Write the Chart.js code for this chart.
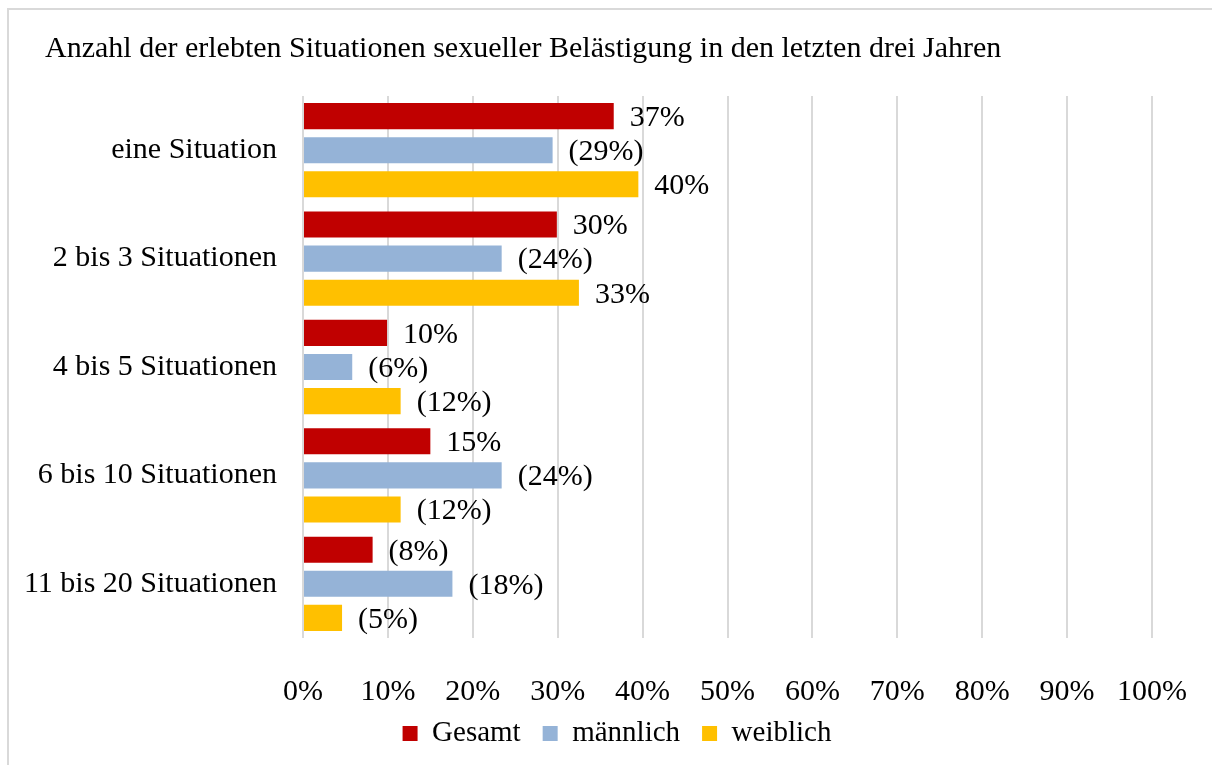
<!DOCTYPE html>
<html>
<head>
<meta charset="utf-8">
<script src="https://cdn.jsdelivr.net/npm/chart.js@4"></script>
<style>
    html, body { margin: 0; padding: 0; background: #fff; overflow: hidden; }
    #frame {
        position: absolute; left: 7px; top: 8px; width: 1300px; height: 900px;
        border: 2px solid #d9d9d9; box-sizing: border-box;
    }
    #wrap { position: absolute; left: 0; top: 0; width: 1212px; height: 765px; }
</style>
</head>
<body>
<div id="frame"></div>
<div id="wrap"><canvas id="chart" width="1212" height="765"></canvas></div>
<script>
// categories and series
const categories = ['eine Situation', '2 bis 3 Situationen', '4 bis 5 Situationen', '6 bis 10 Situationen', '11 bis 20 Situationen'];
const gesamt = [36.6, 29.9, 9.9, 15.0, 8.2];
const maennlich = [29.4, 23.4, 5.8, 23.4, 17.6];
const weiblich = [39.5, 32.5, 11.5, 11.5, 4.6];

// labels printed next to the bars (brackets = small sample)
const gesamtLabels = ['37%', '30%', '10%', '15%', '(8%)'];
const maennlichLabels = ['(29%)', '(24%)', '(6%)', '(24%)', '(18%)'];
const weiblichLabels = ['40%', '33%', '(12%)', '(12%)', '(5%)'];

const xTicks = [0, 10, 20, 30, 40, 50, 60, 70, 80, 90, 100];

const FONT = "'Liberation Serif', serif";

// draws the value text right of each bar
const barLabels = {
    id: 'barLabels',
    afterDatasetsDraw(chart) {
        const ctx = chart.ctx;
        ctx.save();
        ctx.font = '30px ' + FONT;
        ctx.fillStyle = '#000';
        ctx.textBaseline = 'middle';
        ctx.textAlign = 'left';
        chart.data.datasets.forEach((ds, i) => {
            const meta = chart.getDatasetMeta(i);
            meta.data.forEach((bar, j) => {
                ctx.fillText(ds.labels[j], bar.x + 16, bar.y + 2);
            });
        });
        ctx.restore();
    }
};

// title starts at the plot text margin, legend is centred on the whole frame
const placeBlocks = {
    id: 'placeBlocks',
    afterLayout(chart) {
        if (chart.titleBlock) {
            chart.titleBlock.left = 45;
        }
        if (chart.legend) {
            chart.legend.left = 22;
            chart.legend.right = 1212;
        }
        // let the x tick labels reach below the (short) axis box
        chart.scales.x.bottom = chart.height;
    }
};

new Chart(document.getElementById('chart'), {
    type: 'bar',
    data: {
        labels: categories,
        datasets: [
            { label: 'Gesamt', data: gesamt, labels: gesamtLabels, backgroundColor: '#c00000' },
            { label: 'männlich', data: maennlich, labels: maennlichLabels, backgroundColor: '#95b3d7' },
            { label: 'weiblich', data: weiblich, labels: weiblichLabels, backgroundColor: '#ffc000' }
        ]
    },
    options: {
        indexAxis: 'y',
        responsive: false,
        animation: false,
        categoryPercentage: 0.944,
        barPercentage: 0.765,
        layout: {
            padding: { left: 22, right: 60, top: 31, bottom: 7 }
        },
        plugins: {
            title: {
                display: true,
                text: 'Anzahl der erlebten Situationen sexueller Belästigung in den letzten drei Jahren',
                align: 'start',
                color: '#000',
                font: { family: FONT, size: 30, weight: 'normal' },
                padding: { top: 0, bottom: 29 }
            },
            legend: {
                position: 'bottom',
                labels: {
                    color: '#000',
                    font: { family: FONT, size: 29 },
                    boxWidth: 15,
                    boxHeight: 15,
                    padding: 22
                }
            },
            tooltip: { enabled: false }
        },
        scales: {
            x: {
                min: 0,
                max: 100,
                afterBuildTicks(scale) {
                    scale.ticks = xTicks.map(v => ({ value: v }));
                },
                afterFit(scale) {
                    scale.height = 59;
                    scale.paddingLeft = 0;
                    scale.paddingRight = 0;
                },
                grid: {
                    color: '#d9d9d9',
                    lineWidth: 2,
                    drawTicks: false
                },
                border: { display: false },
                ticks: {
                    color: '#000',
                    font: { family: FONT, size: 30 },
                    padding: 36,
                    maxRotation: 0,
                    callback: v => v + '%'
                }
            },
            y: {
                afterFit(scale) {
                    scale.width = 281;
                },
                grid: { display: false, drawTicks: false },
                border: { display: false },
                ticks: {
                    color: '#000',
                    font: { family: FONT, size: 30 },
                    padding: 26
                }
            }
        }
    },
    plugins: [barLabels, placeBlocks]
});
</script>
</body>
</html>
